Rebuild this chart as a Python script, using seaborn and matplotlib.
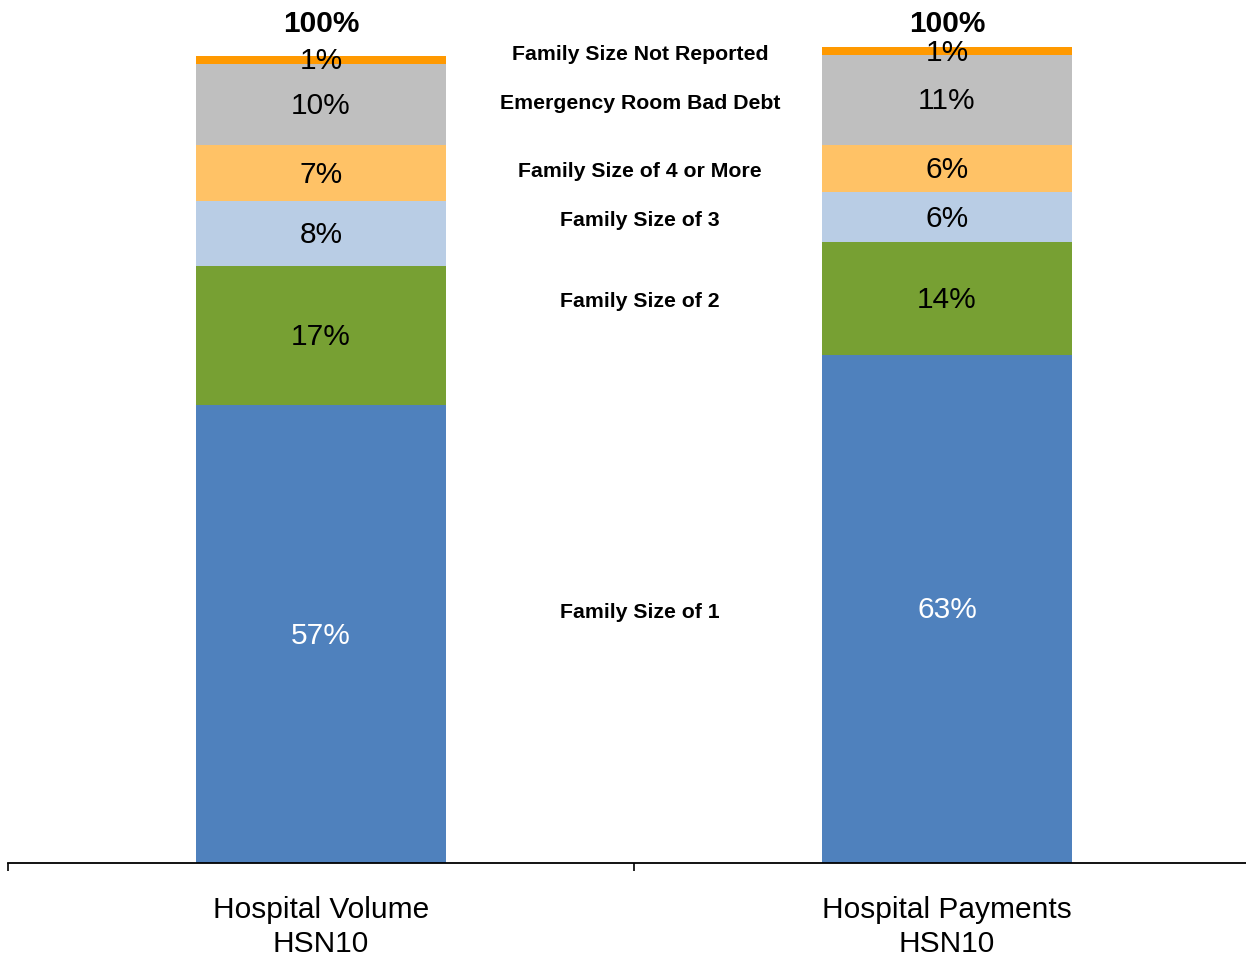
import numpy as np
import matplotlib
matplotlib.use('Agg')
import matplotlib.pyplot as plt
import seaborn as sns

# data
categories = ['Hospital Volume\nHSN10', 'Hospital Payments\nHSN10']
series = ['Family Size of 1', 'Family Size of 2', 'Family Size of 3',
          'Family Size of 4 or More', 'Emergency Room Bad Debt',
          'Family Size Not Reported']
volume = [56.7, 17.2, 8.0, 6.9, 10.1, 1.0]
payments = [62.9, 14.0, 6.1, 5.9, 11.1, 1.0]
volume_labels = ['57%', '17%', '8%', '7%', '10%', '1%']
payments_labels = ['63%', '14%', '6%', '6%', '11%', '1%']
total_labels = ['100%', '100%']
colors = ['#4F81BD', '#77A033', '#B9CDE5', '#FFC266', '#BFBFBF', '#FF9900']
text_colors = ['white', 'black', 'black', 'black', 'black', 'black']

sns.set_style('white')
plt.rcParams['font.family'] = ['Liberation Sans', 'DejaVu Sans']
plt.rcParams['text.color'] = 'black'
plt.rcParams['xtick.labelcolor'] = 'black'

fig = plt.figure(figsize=(12.46, 9.61), dpi=100)
ax = fig.add_axes([8 / 1246, 98 / 961, 1252 / 1246, 808 / 961])

vals = np.array([volume, payments])
cum = vals.cumsum(axis=1)

# stacked bars: draw cumulative totals from the top layer down
for i in range(len(series) - 1, -1, -1):
    sns.barplot(x=categories, y=cum[:, i], color=colors[i], saturation=1,
                width=0.4, linewidth=0, ax=ax, clip_on=False)

# segment labels
seg_labels = [volume_labels, payments_labels]
for b in range(2):
    for i in range(len(series)):
        mid = cum[b, i] - vals[b, i] / 2
        ax.text(b, mid - 0.2, seg_labels[b][i], ha='center', va='center',
                fontsize=21.5, color=text_colors[i], clip_on=False)
    ax.text(b, 103.8, total_labels[b], ha='center', va='center',
            fontsize=21.5, fontweight='bold', color='black', clip_on=False)

# series names between the bars, aligned with the right bar segments
for i, name in enumerate(series):
    mid = cum[1, i] - vals[1, i] / 2
    ax.text(0.51, mid - 0.4, name, ha='center', va='center', fontsize=15.3,
            fontweight='bold', color='black', clip_on=False)

ax.set_xlim(-0.5, 1.5)
ax.set_ylim(0, 100)
ax.set_yticks([])
for s in ['left', 'right', 'top']:
    ax.spines[s].set_visible(False)
ax.spines['bottom'].set_linewidth(1.3)
ax.spines['bottom'].set_color('black')

ax.set_xticks([-0.5, 0.5, 1.5])
ax.set_xticklabels(['', '', ''])
ax.tick_params(axis='x', which='major', direction='out', length=6,
               width=1.2, color='black', bottom=True)
ax.set_xticks([0, 1], minor=True)
ax.set_xticklabels(categories, minor=True, fontsize=21.5, linespacing=1.25)
ax.tick_params(axis='x', which='minor', length=0, pad=24)
ax.set_xlabel('')
ax.set_ylabel('')

fig.savefig('out.png', dpi=100)
